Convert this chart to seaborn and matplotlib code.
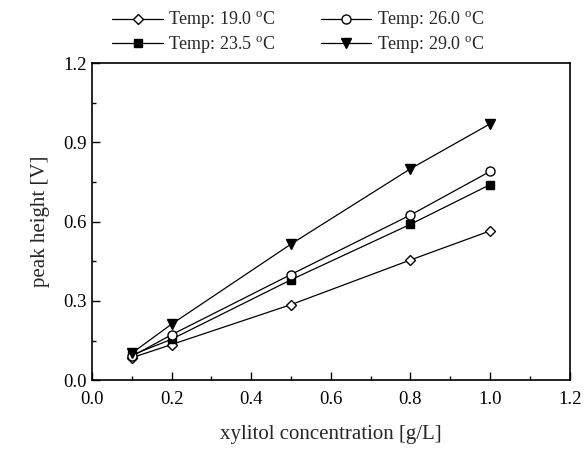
import matplotlib
matplotlib.use('Agg')
import matplotlib.pyplot as plt
from matplotlib.ticker import MultipleLocator
import pandas as pd
import seaborn as sns

# xylitol concentration [g/L]
conc = [0.1, 0.2, 0.5, 0.8, 1.0]

# peak height [V] per temperature
temp_19 = [0.085, 0.135, 0.286, 0.455, 0.565]
temp_235 = [0.095, 0.155, 0.380, 0.590, 0.740]
temp_26 = [0.090, 0.172, 0.400, 0.625, 0.790]
temp_29 = [0.102, 0.212, 0.515, 0.800, 0.970]

labels = [r'Temp: 19.0 $^\mathrm{o}$C', r'Temp: 23.5 $^\mathrm{o}$C',
          r'Temp: 26.0 $^\mathrm{o}$C', r'Temp: 29.0 $^\mathrm{o}$C']

sns.set_theme(style='ticks')
plt.rcParams['font.family'] = ['Liberation Serif', 'DejaVu Serif']
plt.rcParams['mathtext.fontset'] = 'custom'
plt.rcParams['mathtext.rm'] = 'Liberation Serif'

fig = plt.figure(figsize=(5.85, 4.5), dpi=100)
ax = fig.add_axes([0.157, 0.155, 0.817, 0.705])

series = [temp_19, temp_235, temp_26, temp_29]
styles = [('D', 'white', 5.5), ('s', 'black', 6), ('o', 'white', 6.5), ('v', 'black', 7)]

for vals, lab, (mk, fc, ms) in zip(series, labels, styles):
    df = pd.DataFrame({'x': conc, 'y': vals})
    sns.lineplot(data=df, x='x', y='y', ax=ax, color='black', lw=0.9,
                 marker=mk, markerfacecolor=fc, markeredgecolor='black',
                 markeredgewidth=1.0, markersize=ms, label=lab)

ax.set_xlim(0, 1.2)
ax.set_ylim(0, 1.2)
ax.xaxis.set_major_locator(MultipleLocator(0.2))
ax.xaxis.set_minor_locator(MultipleLocator(0.1))
ax.yaxis.set_major_locator(MultipleLocator(0.3))
ax.yaxis.set_minor_locator(MultipleLocator(0.15))
ax.xaxis.set_major_formatter(plt.FormatStrFormatter('%.1f'))
ax.yaxis.set_major_formatter(plt.FormatStrFormatter('%.1f'))
ax.tick_params(which='both', direction='in', top=False, right=False,
               labelsize=13.5, width=1.0, colors='black')
ax.tick_params(which='major', length=6)
ax.tick_params(which='minor', length=3)
ax.tick_params(axis='x', pad=8)
for s in ax.spines.values():
    s.set_linewidth(1.2)
    s.set_color('black')

ax.set_xlabel('xylitol concentration [g/L]', fontsize=15, labelpad=12)
ax.set_ylabel('peak height [V]', fontsize=15, labelpad=10)

ax.legend(ncol=2, loc='lower center', bbox_to_anchor=(0.51, 0.86),
          bbox_transform=fig.transFigure, frameon=False, fontsize=13,
          handlelength=2.8, columnspacing=2.5, labelspacing=0.2,
          handletextpad=0.3, borderaxespad=0)

fig.savefig('out.png', dpi=100)
